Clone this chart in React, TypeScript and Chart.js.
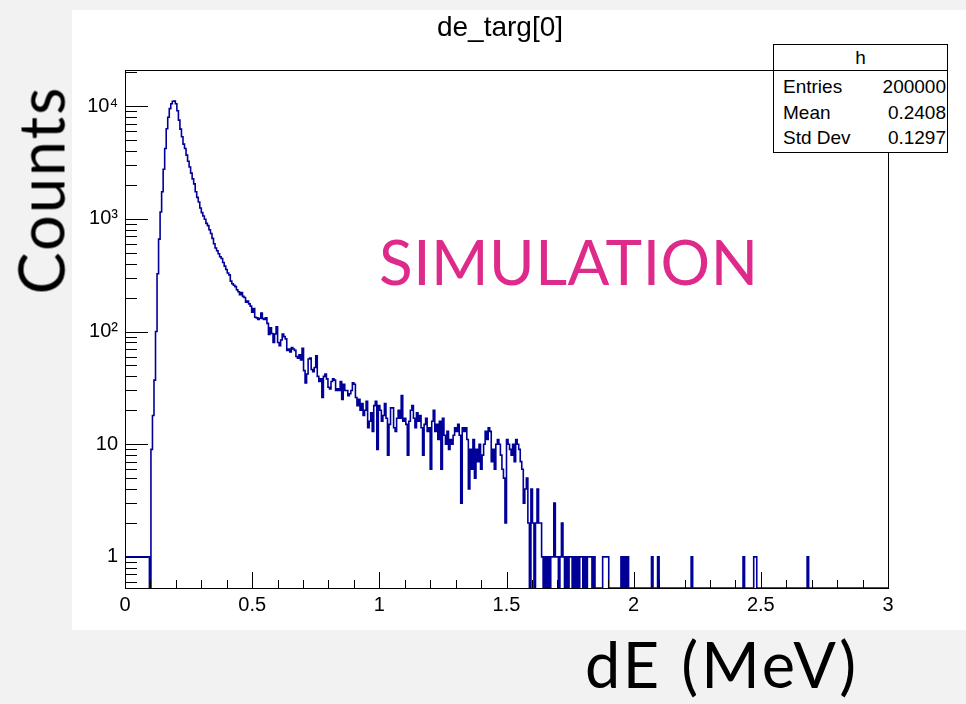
import React, { useEffect, useRef } from "react";
import { Chart, registerables } from "chart.js";

Chart.register(...registerables);

// ---- data ----
const BIN_WIDTH = 0.006; // 500 bins on [0, 3]
const X_MIN = 0;
const X_MAX = 3;
const Y_MIN = 0.53;
const Y_MAX = 20900;

const X_TICKS = [0, 0.5, 1, 1.5, 2, 2.5, 3];
const X_TICK_LABELS = ["0", "0.5", "1", "1.5", "2", "2.5", "3"];
const X_MINOR_STEP = 0.1;
const Y_TICKS = [1, 10, 100, 1000, 10000];
const Y_TICK_LABELS = ["1", "10", "10\u00B2", "10\u00B3", "10\u2074"];

const COUNTS = [
  1, 1, 1, 1, 1, 1, 1, 1, 1, 1, 1, 1, 1, 1, 1, 1, 1, 0, 9, 18,
  37, 100, 325, 660, 1150, 1740, 2750, 4200, 6300, 7950, 9500, 10500, 11050, 11100, 10500, 9100, 7500, 6250, 5350, 4600,
  4200, 3670, 3240, 2880, 2540, 2260, 2040, 1740, 1550, 1410, 1245, 1135, 1060, 990, 910, 870, 800, 740, 670, 600,
  550, 520, 490, 460, 445, 410, 380, 355, 330, 318, 280, 265, 257, 250, 235, 225, 212, 222, 205, 200,
  182, 186, 176, 168, 148, 160, 134, 132, 128, 131, 146, 130, 128, 132, 118, 94, 108, 96, 80, 95,
  110, 80, 75, 84, 95, 90, 86, 68, 70, 66, 72, 70, 68, 60, 58, 62, 56, 71, 45, 35,
  42, 57, 58, 46, 44, 48, 61, 40, 36, 38, 26, 40, 42, 38, 32, 31, 36, 38, 37, 30,
  31, 30, 36, 25, 34, 30, 30, 27, 28, 30, 35, 34, 26, 22, 25, 20, 23, 18, 20, 24,
  14, 16, 19, 13, 22, 24, 9, 22, 20, 16, 18, 23, 17, 8, 15, 21, 21, 14, 13, 17,
  20, 17, 27, 16, 17, 15, 8, 16, 20, 22, 17, 14, 19, 16, 18, 14, 8, 15, 17, 13,
  14, 6, 16, 20, 13, 15, 11, 16, 6, 17, 12, 10, 13, 9, 11, 10, 12, 14, 13, 15,
  12, 3, 14, 13, 14, 11, 4, 9, 6, 11, 5, 9, 7, 10, 6, 8, 10, 13, 11, 14,
  13, 7, 9, 6, 10, 11, 10, 8, 6, 5, 2, 11, 10, 9, 8, 10, 7, 11, 10, 9,
  7, 6, 3, 4, 5, 2, 0, 4, 2, 0, 2, 4, 2, 2, 1, 0, 1, 0, 1, 0,
  1, 1, 3, 1, 1, 0, 1, 2, 1, 0, 1, 0, 1, 1, 0, 1, 0, 1, 0, 1,
  1, 0, 1, 0, 1, 1, 1, 0, 1, 0, 0, 0, 0, 0, 1, 1, 1, 1, 0, 0,
  0, 0, 0, 0, 0, 0, 1, 0, 1, 0, 1, 0, 0, 0, 0, 0, 0, 0, 0, 0,
  0, 0, 0, 0, 0, 0, 1, 0, 0, 0, 1, 0, 0, 0, 0, 0, 0, 0, 0, 0,
  0, 0, 0, 0, 0, 0, 0, 0, 0, 0, 0, 0, 1, 0, 0, 0, 0, 0, 0, 0,
  0, 0, 0, 0, 0, 0, 0, 0, 0, 0, 0, 0, 0, 0, 0, 0, 0, 0, 0, 0,
  0, 0, 0, 0, 0, 0, 1, 0, 0, 0, 0, 0, 0, 1, 1, 0, 0, 0, 0, 0,
  0, 0, 0, 0, 0, 0, 0, 0, 0, 0, 0, 0, 0, 0, 0, 0, 0, 0, 0, 0,
  0, 0, 0, 0, 0, 0, 0, 0, 1, 0, 0, 0, 0, 0, 0, 0, 0, 0, 0, 0,
  0, 0, 0, 0, 0, 0, 0, 0, 0, 0, 0, 0, 0, 0, 0, 0, 0, 0, 0, 0,
  0, 0, 0, 0, 0, 0, 0, 0, 0, 0, 0, 0, 0, 0, 0, 0, 0, 0, 0, 0,
];

const TITLE = "de_targ[0]";
const STATS_TITLE = "h";
const STATS_NAMES = ["Entries", "Mean", "Std Dev"];
const STATS_VALUES = ["200000", "0.2408", "0.1297"];
const X_LABEL = "dE (MeV)";
const Y_LABEL = "Counts";
const STAMP = "SIMULATION";

// ---- styles ----
const ROOT_FONT = '"Liberation Sans", Arial, Helvetica, sans-serif';
const SLIDE_FONT = 'Lato, "Open Sans", sans-serif';
const LINE_COLOR = "#000099";

const rootFrame = {
  id: "rootFrame",
  afterDatasetsDraw(chart: any) {
    const { ctx, chartArea: a, scales } = chart;
    const xs = scales.x;
    const ys = scales.y;
    ctx.save();
    ctx.strokeStyle = "#000";
    ctx.lineWidth = 1;
    ctx.beginPath();
    const nMinor = Math.round((X_MAX - X_MIN) / X_MINOR_STEP);
    for (let k = 0; k <= nMinor; k++) {
      const v = X_MIN + k * X_MINOR_STEP;
      const px = Math.round(xs.getPixelForValue(v)) + 0.5;
      const major = X_TICKS.some((t) => Math.abs(t - v) < 1e-9);
      const len = major ? 16 : 8;
      ctx.moveTo(px, a.bottom);
      ctx.lineTo(px, a.bottom - len);
    }
    const d0 = Math.floor(Math.log10(Y_MIN));
    const d1 = Math.ceil(Math.log10(Y_MAX));
    for (let d = d0; d <= d1; d++) {
      for (let m = 1; m <= 9; m++) {
        const v = m * Math.pow(10, d);
        if (v < Y_MIN || v > Y_MAX) continue;
        const py = Math.round(ys.getPixelForValue(v)) + 0.5;
        const len = m === 1 ? 23 : 12;
        ctx.moveTo(a.left, py);
        ctx.lineTo(a.left + len, py);
      }
    }
    ctx.stroke();
    ctx.strokeRect(Math.round(a.left) + 0.5, Math.round(a.top) + 0.5, Math.round(a.right - a.left), Math.round(a.bottom - a.top));
    ctx.restore();
  },
};

function HistChart() {
  const ref = useRef<HTMLCanvasElement | null>(null);
  useEffect(() => {
    if (!ref.current) return;
    const points = COUNTS.map((c, i) => ({ x: X_MIN + i * BIN_WIDTH, y: c > 0 ? c : Y_MIN }));
    const last = COUNTS[COUNTS.length - 1];
    points.push({ x: X_MIN + COUNTS.length * BIN_WIDTH, y: last > 0 ? last : Y_MIN });
    const chart = new Chart(ref.current, {
      type: "line",
      data: {
        datasets: [
          {
            data: points,
            stepped: "after",
            borderColor: LINE_COLOR,
            borderWidth: 1.6,
            pointRadius: 0,
            fill: false,
          },
        ],
      },
      options: {
        responsive: false,
        animation: false,
        devicePixelRatio: 1,
        layout: { padding: { top: 60, right: 78, left: 0, bottom: 0 } },
        plugins: { legend: { display: false }, title: { display: false }, tooltip: { enabled: false } },
        scales: {
          x: {
            type: "linear",
            min: X_MIN,
            max: X_MAX,
            grid: { display: false, drawTicks: false },
            border: { display: false },
            afterBuildTicks: (s: any) => {
              s.ticks = X_TICKS.map((v) => ({ value: v }));
            },
            afterFit: (s: any) => {
              s.height = 42;
            },
            ticks: {
              color: "#000",
              padding: 5,
              maxRotation: 0,
              autoSkip: false,
              font: { family: ROOT_FONT, size: 20 },
              callback: (_v: any, i: number) => X_TICK_LABELS[i],
            },
          },
          y: {
            type: "logarithmic",
            min: Y_MIN,
            max: Y_MAX,
            grid: { display: false, drawTicks: false },
            border: { display: false },
            afterBuildTicks: (s: any) => {
              s.ticks = Y_TICKS.map((v) => ({ value: v }));
            },
            afterFit: (s: any) => {
              s.width = 53;
            },
            ticks: {
              color: "#000",
              padding: 7,
              autoSkip: false,
              font: { family: ROOT_FONT, size: 20 },
              callback: (_v: any, i: number) => Y_TICK_LABELS[i],
            },
          },
        },
      },
      plugins: [rootFrame],
    } as any);
    return () => chart.destroy();
  }, []);
  return <canvas ref={ref} width={894} height={620} style={{ display: "block" }} />;
}

export default function App() {
  return (
    <div style={{ position: "absolute", left: 0, top: 0, width: 966, height: 704, background: "#f2f2f2", overflow: "hidden" }}>
      <div style={{ position: "absolute", left: 72, top: 10, width: 894, height: 620, background: "#fff" }}>
        <HistChart />
      </div>
      <div style={{ position: "absolute", left: 500, top: 27, transform: "translate(-50%, -50%)", fontFamily: ROOT_FONT, fontSize: 28, lineHeight: 1, whiteSpace: "nowrap", color: "#000" }}>
        {TITLE}
      </div>
      <div style={{ position: "absolute", left: 773, top: 44, width: 175, height: 109, boxSizing: "border-box", border: "1px solid #000", background: "#fff", fontFamily: ROOT_FONT, fontSize: 19, color: "#000" }}>
        <div style={{ height: 25, lineHeight: "25px", textAlign: "center", borderBottom: "1px solid #000" }}>{STATS_TITLE}</div>
        <div style={{ paddingTop: 3 }}>
          {STATS_NAMES.map((n, i) => (
            <div key={n} style={{ display: "flex", justifyContent: "space-between", height: 25.5, lineHeight: "25.5px", paddingLeft: 9, paddingRight: 1 }}>
              <span>{n}</span>
              <span>{STATS_VALUES[i]}</span>
            </div>
          ))}
        </div>
      </div>
      <div style={{ position: "absolute", left: 379, top: 230, fontFamily: SLIDE_FONT, fontSize: 62, letterSpacing: 0.5, lineHeight: 1, color: "#DE2A8A", whiteSpace: "nowrap" }}>
        {STAMP}
      </div>
      <div style={{ position: "absolute", left: 40, top: 190, transform: "translate(-50%, -50%) rotate(-90deg)", fontFamily: SLIDE_FONT, fontSize: 63, letterSpacing: 2, lineHeight: 1, color: "#000", whiteSpace: "nowrap" }}>
        {Y_LABEL}
      </div>
      <div style={{ position: "absolute", left: 585, top: 632, fontFamily: SLIDE_FONT, fontSize: 63, letterSpacing: 3, lineHeight: 1, color: "#000", whiteSpace: "nowrap" }}>
        {X_LABEL}
      </div>
    </div>
  );
}
